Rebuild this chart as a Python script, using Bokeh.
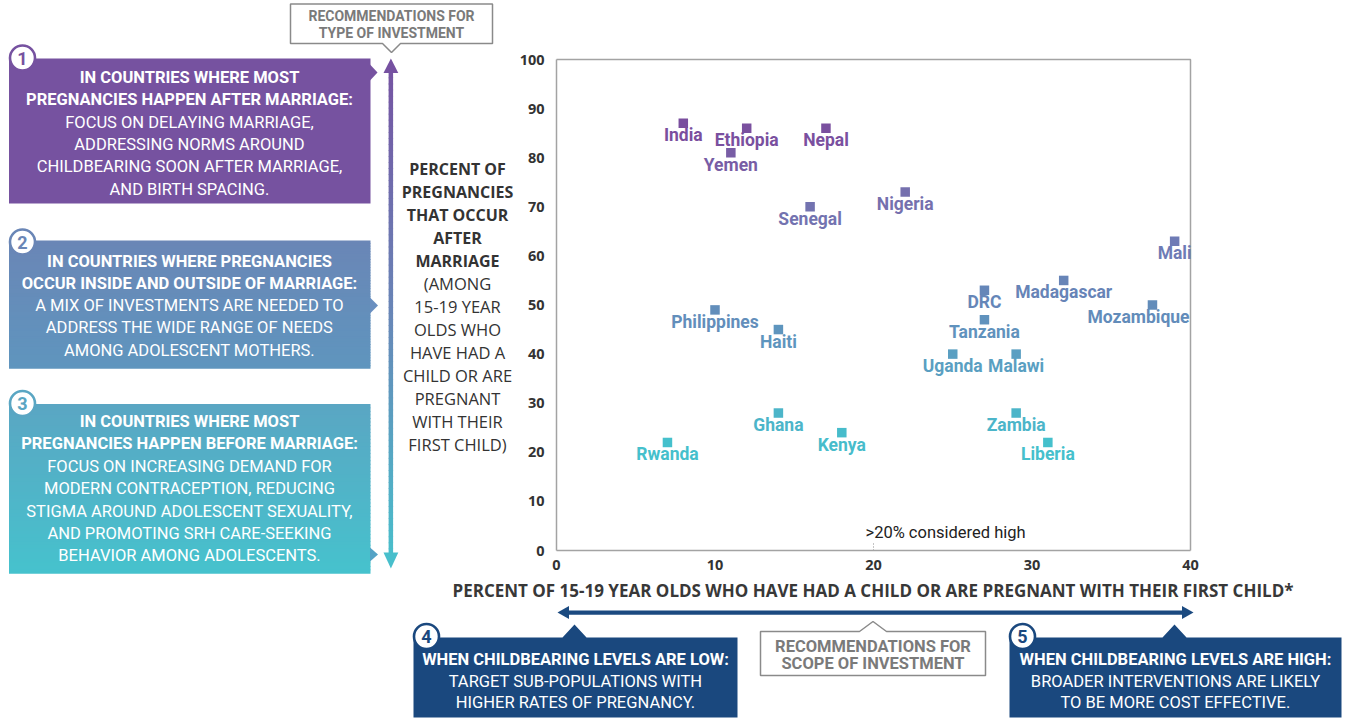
import numpy as np
from bokeh.plotting import figure
from bokeh.models import Range1d, LinearAxis, FixedTicker
from bokeh.core.properties import value
from bokeh.embed import file_html
from bokeh.resources import INLINE

# ---------------- data ----------------
countries = ["India", "Ethiopia", "Nepal", "Yemen", "Senegal", "Nigeria", "Mali",
             "Madagascar", "DRC", "Mozambique", "Tanzania", "Philippines", "Haiti",
             "Uganda", "Malawi", "Ghana", "Zambia", "Kenya", "Rwanda", "Liberia"]
teen_pct = [8, 12, 17, 11, 16, 22, 39, 32, 27, 37.6, 27, 10, 14, 25, 29, 14, 29, 18, 7, 31]
after_marriage_pct = [87, 86, 86, 81, 70, 73, 63, 55, 53, 50, 47, 49, 45, 40, 40, 28, 28, 24, 22, 22]
x_ticks = [0, 10, 20, 30, 40]
y_ticks = [0, 10, 20, 30, 40, 50, 60, 70, 80, 90, 100]
high_threshold = 20
threshold_text = ">20% considered high"

x_title = "PERCENT OF 15-19 YEAR OLDS WHO HAVE HAD A CHILD OR ARE PREGNANT WITH THEIR FIRST CHILD*"
y_title_bold = ["PERCENT OF", "PREGNANCIES", "THAT OCCUR", "AFTER", "MARRIAGE"]
y_title_reg = ["(AMONG", "15-19 YEAR", "OLDS WHO", "HAVE HAD A", "CHILD OR ARE",
               "PREGNANT", "WITH THEIR", "FIRST CHILD)"]

type_callout = ["RECOMMENDATIONS FOR", "TYPE OF INVESTMENT"]
scope_callout = ["RECOMMENDATIONS FOR", "SCOPE OF INVESTMENT"]

box1_bold = ["IN COUNTRIES WHERE MOST", "PREGNANCIES HAPPEN AFTER MARRIAGE:"]
box1_reg = ["FOCUS ON DELAYING MARRIAGE,", "ADDRESSING NORMS AROUND",
            "CHILDBEARING SOON AFTER MARRIAGE,", "AND BIRTH SPACING."]
box2_bold = ["IN COUNTRIES WHERE PREGNANCIES", "OCCUR INSIDE AND OUTSIDE OF MARRIAGE:"]
box2_reg = ["A MIX OF INVESTMENTS ARE NEEDED TO", "ADDRESS THE WIDE RANGE OF NEEDS",
            "AMONG ADOLESCENT MOTHERS."]
box3_bold = ["IN COUNTRIES WHERE MOST", "PREGNANCIES HAPPEN BEFORE MARRIAGE:"]
box3_reg = ["FOCUS ON INCREASING DEMAND FOR", "MODERN CONTRACEPTION, REDUCING",
            "STIGMA AROUND ADOLESCENT SEXUALITY,", "AND PROMOTING SRH CARE-SEEKING",
            "BEHAVIOR AMONG ADOLESCENTS."]
box4_bold = ["WHEN CHILDBEARING LEVELS ARE LOW:"]
box4_reg = ["TARGET SUB-POPULATIONS WITH", "HIGHER RATES OF PREGNANCY."]
box5_bold = ["WHEN CHILDBEARING LEVELS ARE HIGH:"]
box5_reg = ["BROADER INTERVENTIONS ARE LIKELY", "TO BE MORE COST EFFECTIVE."]

# ---------------- layout constants (page pixel coords) ----------------
W, H = 1347, 719
OX, OY = 0, 0
PX_X0, PX_XMAX = 556, 1190
PX_Y0, PX_YMAX = 550, 59

sx = (PX_XMAX - PX_X0) / (x_ticks[-1] - x_ticks[0])
sy = (PX_Y0 - PX_YMAX) / (y_ticks[-1] - y_ticks[0])
x_range = Range1d(x_ticks[0] - (PX_X0 - OX) / sx, x_ticks[0] + (OX + W - PX_X0) / sx)
y_range = Range1d(y_ticks[0] - (OY + H - PX_Y0) / sy, y_ticks[0] + (PX_Y0 - OY) / sy)

p = figure(width=W, height=H, x_range=x_range, y_range=y_range,
           x_axis_type=None, y_axis_type=None, toolbar_location=None,
           output_backend="svg", min_border=0, outline_line_color=None)
p.background_fill_color = "white"
p.border_fill_color = "white"
p.extra_x_ranges = {"px": Range1d(OX, OX + W)}
p.extra_y_ranges = {"px": Range1d(OY + H, OY)}
PX = dict(x_range_name="px", y_range_name="px")


def h2r(h):
    return [int(h[i:i + 2], 16) for i in (1, 3, 5)]


def r2h(c):
    return "#%02x%02x%02x" % tuple(int(round(v)) for v in c)


def ramp(vals, pos, cols):
    order = np.argsort(pos)
    pos = np.asarray(pos, float)[order]
    rgb = np.array([h2r(c) for c in cols], float)[order]
    out = []
    for v in vals:
        out.append(r2h([np.interp(v, pos, rgb[:, k]) for k in range(3)]))
    return out


def txt(xs, ys, texts, size, color, bold=False, font="Roboto", align="center",
        baseline="middle", **kw):
    args = dict(PX)
    args.update(kw)
    p.text(x=xs, y=ys, text=texts, text_font=value(font), text_font_size=size,
           text_font_style="bold" if bold else "normal", text_color=color,
           text_align=align, text_baseline=baseline, **args)


def grad_rect(l, r, t, b, pos, cols, n=48):
    edges = np.linspace(t, b, n + 1)
    mids = (edges[:-1] + edges[1:]) / 2
    c = ramp(mids, pos, cols)
    p.quad(left=l, right=r, top=list(edges[:-1]), bottom=list(edges[1:] + 0.8),
           fill_color=c, line_color=None, **PX)


def tri(xs, ys, color):
    p.patch(x=xs, y=ys, fill_color=color, line_color=None, **PX)


# ---------------- chart axes / frame ----------------
label_font = "Open Sans"
xaxis = LinearAxis(fixed_location=y_ticks[0], bounds=(x_ticks[0], x_ticks[-1]),
                   ticker=FixedTicker(ticks=x_ticks))
yaxis = LinearAxis(fixed_location=x_ticks[0], bounds=(y_ticks[0], y_ticks[-1]),
                   ticker=FixedTicker(ticks=y_ticks))
for ax, st in ((xaxis, 9), (yaxis, 12)):
    ax.axis_line_color = "#a3a3a3"
    ax.axis_line_width = 1.5
    ax.major_tick_line_color = None
    ax.minor_tick_line_color = None
    ax.major_tick_in = 0
    ax.major_tick_out = 0
    ax.major_label_standoff = st
    ax.major_label_text_font = label_font
    ax.major_label_text_font_style = "bold"
    ax.major_label_text_font_size = "14.5px"
    ax.major_label_text_color = "#333333"
p.add_layout(xaxis, "below")
p.add_layout(yaxis, "left")
p.line(x=[x_ticks[0], x_ticks[-1], x_ticks[-1]], y=[y_ticks[-1], y_ticks[-1], y_ticks[0]],
       line_color="#a3a3a3", line_width=1.5)

# threshold marker
p.segment(x0=[high_threshold], y0=[PX_Y0], x1=[high_threshold], y1=[541],
          line_color="#8a8a8a", line_width=1, line_dash="1 2", y_range_name="px")
p.text(x=[high_threshold], y=[532], text=[threshold_text], x_offset=-8,
       text_font=value("Roboto"), text_font_size="16.5px", text_color="#222222",
       text_align="left", text_baseline="middle", y_range_name="px")

# ---------------- points ----------------
pt_colors = ramp(after_marriage_pct, [87, 73, 63, 53, 40, 22],
                 ["#7a4e9e", "#7570ae", "#6e7bb5", "#6586b8", "#5a9fc2", "#45c0cc"])
label_dx = [-14 if c == "Mozambique" else 0 for c in countries]
p.scatter(x=teen_pct, y=after_marriage_pct, marker="square", size=9.5,
          fill_color=pt_colors, line_color=None)
p.text(x=teen_pct, y=after_marriage_pct, text=countries, x_offset=label_dx, y_offset=12,
       text_font=value("Roboto"), text_font_style="bold", text_font_size="17.5px",
       text_color=pt_colors, text_align="center", text_baseline="alphabetic")

# ---------------- axis titles ----------------
txt([872.5], [590], [x_title], "17px", "#383838", bold=True, font=label_font)
yt = [168.3 + 23.0 * i for i in range(len(y_title_bold) + len(y_title_reg))]
txt([457] * len(y_title_bold), yt[:len(y_title_bold)], y_title_bold, "16px", "#333333",
    bold=True, font=label_font)
txt([457] * len(y_title_reg), yt[len(y_title_bold):], y_title_reg, "16.5px", "#333333",
    font=label_font)

# ---------------- vertical arrow ----------------
purple, blue_mid, teal = "#7651a1", "#6886b7", "#47c1cc"
grad_rect(388.1, 392.6, 71, 554, [58, 313, 568], [purple, blue_mid, teal], n=80)
tri([383, 397.8, 390.4], [72.5, 72.5, 58], purple)
tri([383, 397.8, 390.4], [552, 552, 568], "#48bfcc")

# top callout
p.patch(x=[290, 492, 492, 400, 391, 382, 290], y=[3.5, 3.5, 43, 43, 52, 43, 43],
        fill_color="white", line_color="#8a8a8a", line_width=1.5, **PX)
txt([391, 391], [15.5, 32.5], type_callout, "14px", "#7a7a7a", bold=True)

# ---------------- left boxes ----------------
BL, BR, BCX = 8.5, 370, 189
box1_col = "#7652a0"
p.quad(left=BL, right=BR, top=58, bottom=203, fill_color=box1_col, line_color=None, **PX)
tri([BR - 0.5, 377, BR - 0.5], [64, 72, 80], box1_col)
grad_rect(BL, BR, 240, 367.5, [240, 367.5], ["#6a86b6", "#5f95be"])
tri([BR - 0.5, 377.5, BR - 0.5], [297, 305, 313], "#6a8fc0")
grad_rect(BL, BR, 403.5, 572.5, [403.5, 572.5], ["#5aa6c3", "#46c2cd"])
tri([BR - 0.5, 377.5, BR - 0.5], [547, 554, 561], "#55a3c6")

def box_text(bold_lines, reg_lines, cx, y0, step, bsize="16.5px", rsize="16.5px"):
    yb = [y0 + step * i for i in range(len(bold_lines))]
    yr = [y0 + step * (i + len(bold_lines)) for i in range(len(reg_lines))]
    txt([cx] * len(bold_lines), yb, bold_lines, bsize, "white", bold=True)
    txt([cx] * len(reg_lines), yr, reg_lines, rsize, "white")

box_text(box1_bold, box1_reg, BCX, 76.7, 22.4)
box_text(box2_bold, box2_reg, BCX, 260.7, 22.2)
box_text(box3_bold, box3_reg, BCX, 421, 22.4)

# ---------------- horizontal arrow ----------------
navy = "#1a487e"
p.quad(left=566, right=1184, top=610, bottom=614.2, fill_color="#1b4a80", line_color=None, **PX)
tri([557, 568.5, 568.5], [612, 605.5, 618.5], "#1b4a80")
tri([1193, 1181.5, 1181.5], [612, 605.5, 618.5], "#1b4a80")

# bottom boxes
p.patch(x=[413, 562, 574, 586, 737, 737, 413], y=[637, 637, 624, 637, 637, 717, 717],
        fill_color=navy, line_color=None, **PX)
p.patch(x=[1009, 1162, 1174, 1186, 1341, 1341, 1009], y=[637, 637, 624, 637, 637, 717, 717],
        fill_color=navy, line_color=None, **PX)
box_text(box4_bold, box4_reg, 575, 659, 21.6)
box_text(box5_bold, box5_reg, 1175, 659, 21.6)

# bottom callout
p.patch(x=[760, 859, 872.5, 886, 985, 985, 760], y=[631, 631, 621, 631, 631, 675, 675],
        fill_color="white", line_color="#8a8a8a", line_width=1.5, **PX)
txt([872.5, 872.5], [646, 663], scope_callout, "16.5px", "#7a7a7a", bold=True)

# ---------------- numbered circles ----------------
cx_ = [22, 22, 22, 426, 1022]
cy_ = [57.5, 241.5, 403, 636, 636]
ccol = [box1_col, "#6a86b6", "#5aa6c3", navy, navy]
p.scatter(x=cx_, y=cy_, marker="circle", size=25, fill_color="white",
          line_color=ccol, line_width=2.6, **PX)
p.text(x=cx_, y=cy_, text=["1", "2", "3", "4", "5"], text_font=value("Roboto"),
       text_font_style="bold", text_font_size="18px", text_color=ccol,
       text_align="center", text_baseline="middle", **PX)

open("out.html", "w").write(file_html(p, INLINE))
